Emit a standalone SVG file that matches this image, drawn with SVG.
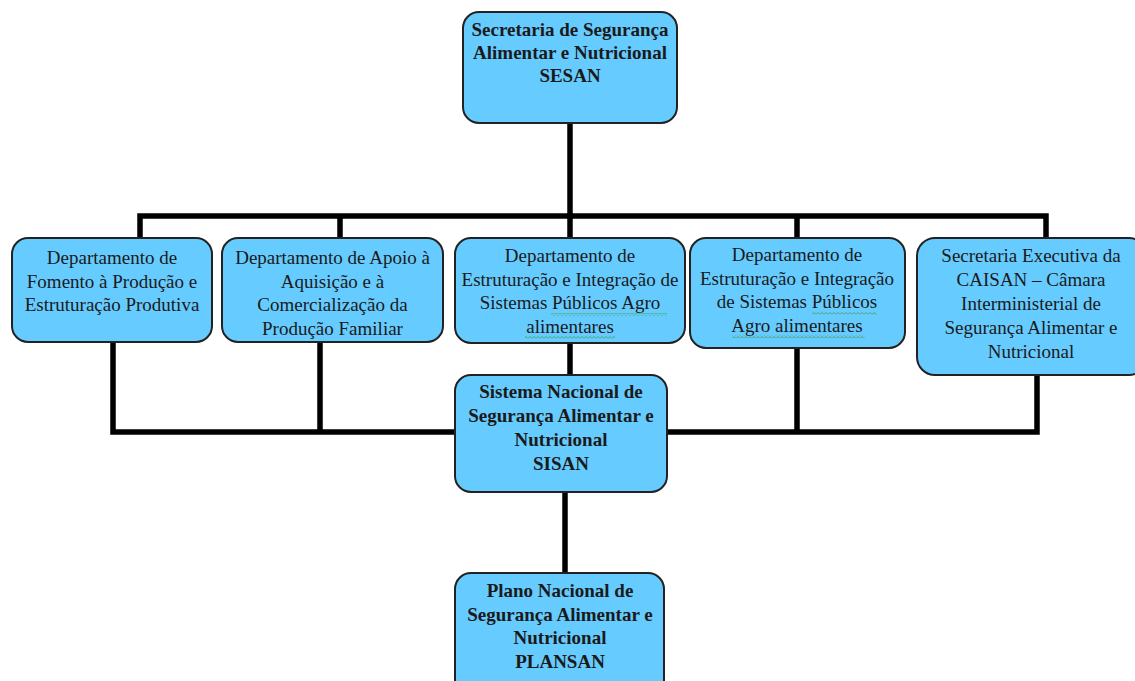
<svg xmlns="http://www.w3.org/2000/svg" width="1135" height="681" viewBox="0 0 1135 681">
<style>
.box{fill:#66CCFF;stroke:#222;stroke-width:2}
.c{fill:none;stroke:#000;stroke-width:5.5;stroke-linecap:square}
.t{font-family:"Liberation Serif","Times New Roman",serif;font-size:19px;fill:#1a1a1a;text-anchor:middle}
.b{font-weight:bold}
.w{fill:url(#wave)}
</style>
<defs>
<pattern id="wave" width="4" height="3" patternUnits="userSpaceOnUse">
<path d="M0 2.5 L2 0.5 L4 2.5" fill="none" stroke="#3a9a3a" stroke-width="0.8"/>
</pattern>
</defs>
<rect width="1135" height="681" fill="#fff"/>
<g id="connectors">
<path class="c" d="M570 123 V216 M140 216 H1046 M140 216 V238 M340 216 V238 M570 216 V238 M797 216 V238 M1046 216 V238"/>
<path class="c" d="M570 343 V375 M113 342 V432 M320 342 V432 M797 348 V432 M1037 375 V432 M113 432 H1037"/>
<path class="c" d="M565 492 V573"/>
</g>
<g id="sesan">
<rect class="box" x="463" y="12" width="214" height="111" rx="16"/>
<text class="t b" x="570" y="36">Secretaria de Segurança</text>
<text class="t b" x="570" y="59">Alimentar e Nutricional</text>
<text class="t b" x="570" y="82">SESAN</text>
</g>
<g id="dep1">
<rect class="box" x="12" y="238" width="200" height="104" rx="16"/>
<text class="t" x="112" y="264">Departamento de</text>
<text class="t" x="112" y="288">Fomento à Produção e</text>
<text class="t" x="112" y="311">Estruturação Produtiva</text>
</g>
<g id="dep2">
<rect class="box" x="222" y="238" width="221" height="104" rx="16"/>
<text class="t" x="332.5" y="264">Departamento de Apoio à</text>
<text class="t" x="332.5" y="287.5">Aquisição e à</text>
<text class="t" x="332.5" y="311">Comercialização da</text>
<text class="t" x="332.5" y="334.5">Produção Familiar</text>
</g>
<g id="dep3">
<rect class="box" x="455" y="238" width="230" height="105" rx="16"/>
<text class="t" x="570" y="262">Departamento de</text>
<text class="t" x="570" y="285.5">Estruturação e Integração de</text>
<text class="t" x="570" y="309">Sistemas Públicos Agro</text>
<text class="t" x="570" y="332.5">alimentares</text>
<rect class="w" x="551" y="313" width="116" height="3"/>
<rect class="w" x="525" y="336" width="90" height="3"/>
</g>
<g id="dep4">
<rect class="box" x="690" y="238" width="215" height="110" rx="16"/>
<text class="t" x="797" y="261">Departamento de</text>
<text class="t" x="797" y="284.5">Estruturação e Integração</text>
<text class="t" x="797" y="308">de Sistemas Públicos</text>
<text class="t" x="797" y="331.5">Agro alimentares</text>
<rect class="w" x="812" y="312" width="65" height="3"/>
<rect class="w" x="732" y="335" width="133" height="3"/>
</g>
<g id="caisan">
<rect class="box" x="917" y="238" width="230" height="137" rx="18"/>
<text class="t" x="1031" y="262">Secretaria Executiva da</text>
<text class="t" x="1031" y="286">CAISAN – Câmara</text>
<text class="t" x="1031" y="310">Interministerial de</text>
<text class="t" x="1031" y="334">Segurança Alimentar e</text>
<text class="t" x="1031" y="358">Nutricional</text>
</g>
<g id="sisan">
<rect class="box" x="455" y="375" width="212" height="117" rx="16"/>
<text class="t b" x="561" y="398">Sistema Nacional de</text>
<text class="t b" x="561" y="422">Segurança Alimentar e</text>
<text class="t b" x="561" y="446">Nutricional</text>
<text class="t b" x="561" y="470">SISAN</text>
</g>
<g id="plansan">
<rect class="box" x="455" y="573" width="209" height="130" rx="16"/>
<text class="t b" x="560" y="597">Plano Nacional de</text>
<text class="t b" x="560" y="620.5">Segurança Alimentar e</text>
<text class="t b" x="560" y="644">Nutricional</text>
<text class="t b" x="560" y="667.5">PLANSAN</text>
</g>
</svg>
